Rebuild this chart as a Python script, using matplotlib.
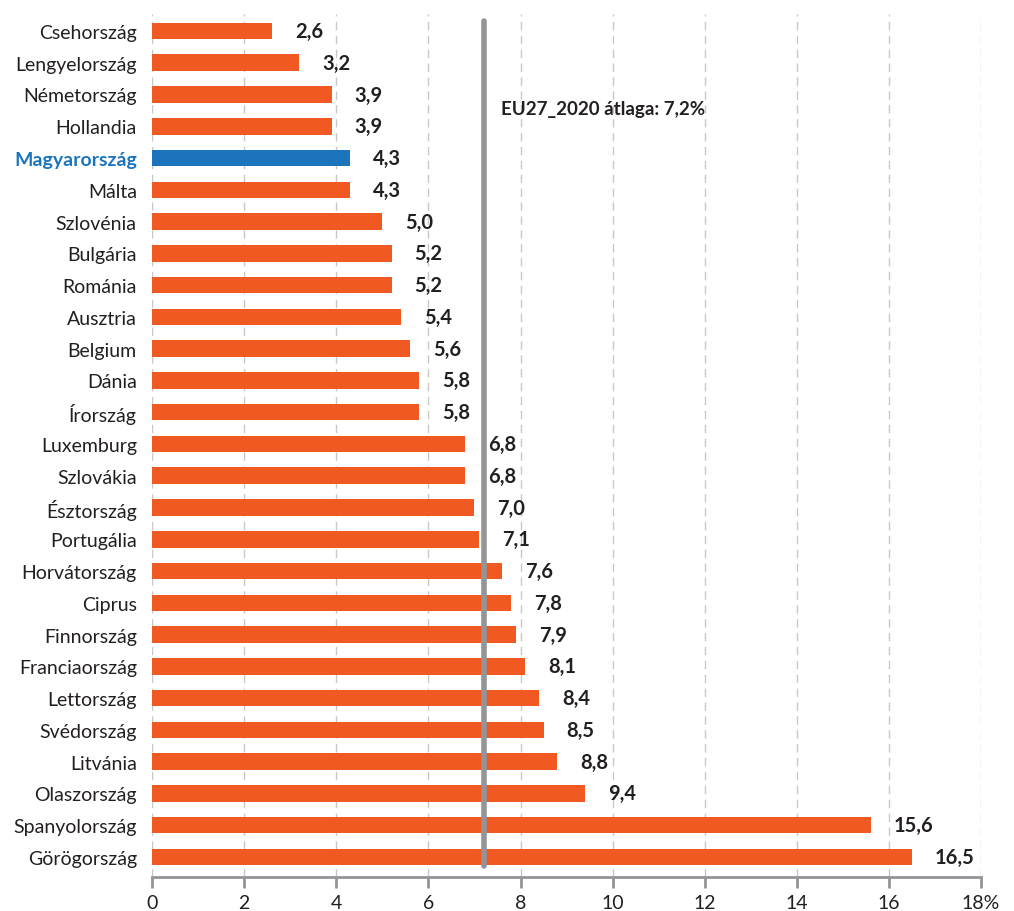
import numpy as np
import matplotlib.pyplot as plt

plt.rcParams['font.family'] = ['Lato', 'DejaVu Sans']

countries = ['Csehország', 'Lengyelország', 'Németország', 'Hollandia', 'Magyarország',
             'Málta', 'Szlovénia', 'Bulgária', 'Románia', 'Ausztria', 'Belgium', 'Dánia',
             'Írország', 'Luxemburg', 'Szlovákia', 'Észtország', 'Portugália', 'Horvátország',
             'Ciprus', 'Finnország', 'Franciaország', 'Lettország', 'Svédország', 'Litvánia',
             'Olaszország', 'Spanyolország', 'Görögország']
values = [2.6, 3.2, 3.9, 3.9, 4.3, 4.3, 5.0, 5.2, 5.2, 5.4, 5.6, 5.8, 5.8, 6.8, 6.8,
          7.0, 7.1, 7.6, 7.8, 7.9, 8.1, 8.4, 8.5, 8.8, 9.4, 15.6, 16.5]
highlight = 'Magyarország'
eu_avg = 7.2
xticks = [0, 2, 4, 6, 8, 10, 12, 14, 16, 18]
xticklabels = ['0', '2', '4', '6', '8', '10', '12', '14', '16', '18%']

orange = '#F05A22'
blue = '#1C75BC'
dark = '#231F20'
gray = '#939598'

fig = plt.figure(figsize=(10.14, 9.12), dpi=100)
ax = fig.add_axes([0.15, 0.0373, 0.8175, 0.9463])

y = np.arange(len(countries))
colors = [blue if c == highlight else orange for c in countries]
ax.barh(y, values, height=0.52, color=colors, zorder=2)

for yi, v in zip(y, values):
    ax.text(v + 0.5, yi, f'{v:.1f}'.replace('.', ','), va='center', ha='left',
            fontsize=14.5, fontweight='bold', color=dark)

ax.set_yticks(y)
ax.set_yticklabels(countries, fontsize=14, color=dark)
for lbl in ax.get_yticklabels():
    if lbl.get_text() == highlight:
        lbl.set_color(blue)
        lbl.set_fontweight('bold')
ax.tick_params(axis='y', length=0, pad=11)

ax.set_ylim(26.63, -0.535)
ax.set_xlim(0, 18)
ax.set_xticks(xticks)
ax.set_xticklabels(xticklabels, fontsize=14, color=dark)
ax.tick_params(axis='x', direction='out', length=8, width=2, color=gray, pad=4)

ax.grid(axis='x', linestyle=(0, (6, 4)), color='#C8C8C8', linewidth=1, zorder=0)
for s in ['top', 'right', 'left']:
    ax.spines[s].set_visible(False)
ax.spines['bottom'].set_color(gray)
ax.spines['bottom'].set_linewidth(2)

ax.plot([eu_avg, eu_avg], [-0.3, 26.3], color=gray, linewidth=4, zorder=3,
        solid_capstyle='round')
ax.text(eu_avg + 0.38, 2.45, 'EU27_2020 átlaga: 7,2%', fontsize=13.5,
        fontweight='bold', color=dark, va='center', ha='left')

fig.savefig('out.png', dpi=100)
